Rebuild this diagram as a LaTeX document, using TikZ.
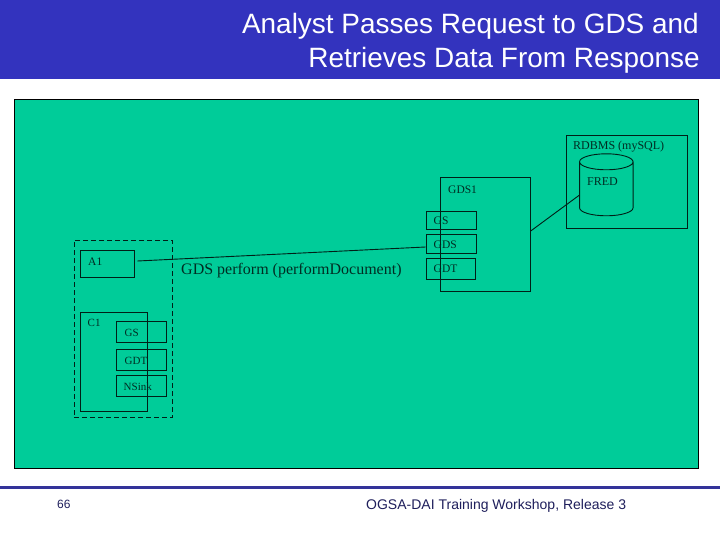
\documentclass[tikz,border=0pt]{standalone}
\usepackage{fontspec}
\setmainfont{Liberation Serif}
\newfontfamily\arialfont{Liberation Sans}
\definecolor{headblue}{RGB}{51,51,190}
\definecolor{ruleblue}{RGB}{51,51,153}
\definecolor{panelgreen}{RGB}{0,204,153}
\definecolor{inkgreen}{RGB}{0,45,35}
\tikzset{
  box/.style={draw=black!85!panelgreen,line width=0.9pt,inner sep=0pt,rectangle},
  lbl/.style={inner sep=0pt,text=inkgreen,font=\fontsize{11}{13}\selectfont,anchor=west},
  conn/.style={draw=black!85!panelgreen,line width=0.9pt},
  titletext/.style={inner sep=0pt,text=white,font=\arialfont\fontsize{27.95}{33}\selectfont,anchor=base east},
  foot/.style={inner sep=0pt,text=ruleblue!60!black,anchor=west}
}
\begin{document}
\begin{tikzpicture}[x=1pt,y=-1pt]
\useasboundingbox (0,0) rectangle (720,540);
\fill[white] (0,0) rectangle (720,540);
\fill[headblue] (0,0) rectangle (720,79);
\node[titletext] (t1) at (699,34) {Analyst Passes Request to GDS and};
\node[titletext] (t2) at (700,68) {Retrieves Data From Response};
\node[draw=black,line width=0.9pt,fill=panelgreen,inner sep=0pt,minimum width=684pt,minimum height=369pt] (panel) at (356,283.5) {};
\fill[ruleblue] (0,485.5) rectangle (720,488.5);
\node[foot,font=\arialfont\fontsize{12}{14}\selectfont] (pg) at (57,504) {66};
\node[foot,font=\arialfont\fontsize{14}{17}\selectfont] (ft) at (366,505.5) {OGSA-DAI Training Workshop, Release 3};
% RDBMS
\node[box,minimum width=121pt,minimum height=93pt] (rdbms) at (626.5,181.5) {};
\node[lbl,font=\fontsize{12}{14}\selectfont] (rdbmsl) at (573,147) {RDBMS (mySQL)};
\node[inner sep=0pt,minimum width=53.5pt,minimum height=62pt] (fred) at (606.5,185) {};
\draw[conn] (fred.north west) ++(0,8) arc[start angle=180,end angle=540,x radius=26.75pt,y radius=8pt]
  -- ++(0,46) arc[start angle=180,end angle=360,x radius=26.75pt,y radius=8pt] -- ++(0,-46);
\node[lbl,font=\fontsize{12}{14}\selectfont] (fredl) at (587,181.5) {FRED};
% GDS1
\node[box,minimum width=50.5pt,minimum height=18pt] (gs) at (451.25,220) {};
\node[box,minimum width=50.5pt,minimum height=19pt] (gds) at (451.25,243.5) {};
\node[box,minimum width=49.5pt,minimum height=21pt] (gdt) at (450.75,268.5) {};
\node[box,minimum width=90pt,minimum height=114pt] (gdsone) at (485.25,234) {};
\node[lbl,font=\fontsize{11.5}{13}\selectfont] (gdsonel) at (448,189.5) {GDS1};
\node[lbl,font=\fontsize{11.5}{13}\selectfont] (gsl) at (433.5,220.5) {GS};
\node[lbl,font=\fontsize{11.5}{13}\selectfont] (gdsl) at (433.5,245) {GDS};
\node[lbl,font=\fontsize{11.5}{13}\selectfont] (gdtl) at (433.5,269) {GDT};
% Analyst
\node[draw=black!85!panelgreen,dash pattern=on 5pt off 3pt,line width=0.9pt,inner sep=0pt,minimum width=98.5pt,minimum height=177pt] (dash) at (123.25,328.5) {};
\node[box,minimum width=54pt,minimum height=27pt] (aone) at (107.5,264) {};
\node[lbl,font=\fontsize{11.5}{13}\selectfont] (aonel) at (88,262) {A1};
\node[box,minimum width=67pt,minimum height=98.5pt] (cone) at (114,361.75) {};
\node[lbl] (conel) at (87.5,323) {C1};
\node[box,minimum width=50pt,minimum height=21.5pt] (cgs) at (141.5,331.75) {};
\node[box,minimum width=50pt,minimum height=21pt] (cgdt) at (141.5,360) {};
\node[box,minimum width=50pt,minimum height=21.5pt] (nsink) at (141.5,385.75) {};
\node[lbl] (cgsl) at (124.5,333) {GS};
\node[lbl] (cgdtl) at (124.5,361) {GDT};
\node[lbl] (nsinkl) at (123.5,387) {NSink};
\node[lbl,font=\fontsize{16}{19}\selectfont] (perf) at (181,271) {GDS perform (performDocument)};
% connectors
\draw[conn] ([shift={(2.5,-3)}]aone.east) -- ([yshift=-3.5pt]gds.west);
\draw[conn] ([yshift=3pt]gdsone.east) -- ([yshift=-10pt]fred.west);
\end{tikzpicture}
\end{document}
